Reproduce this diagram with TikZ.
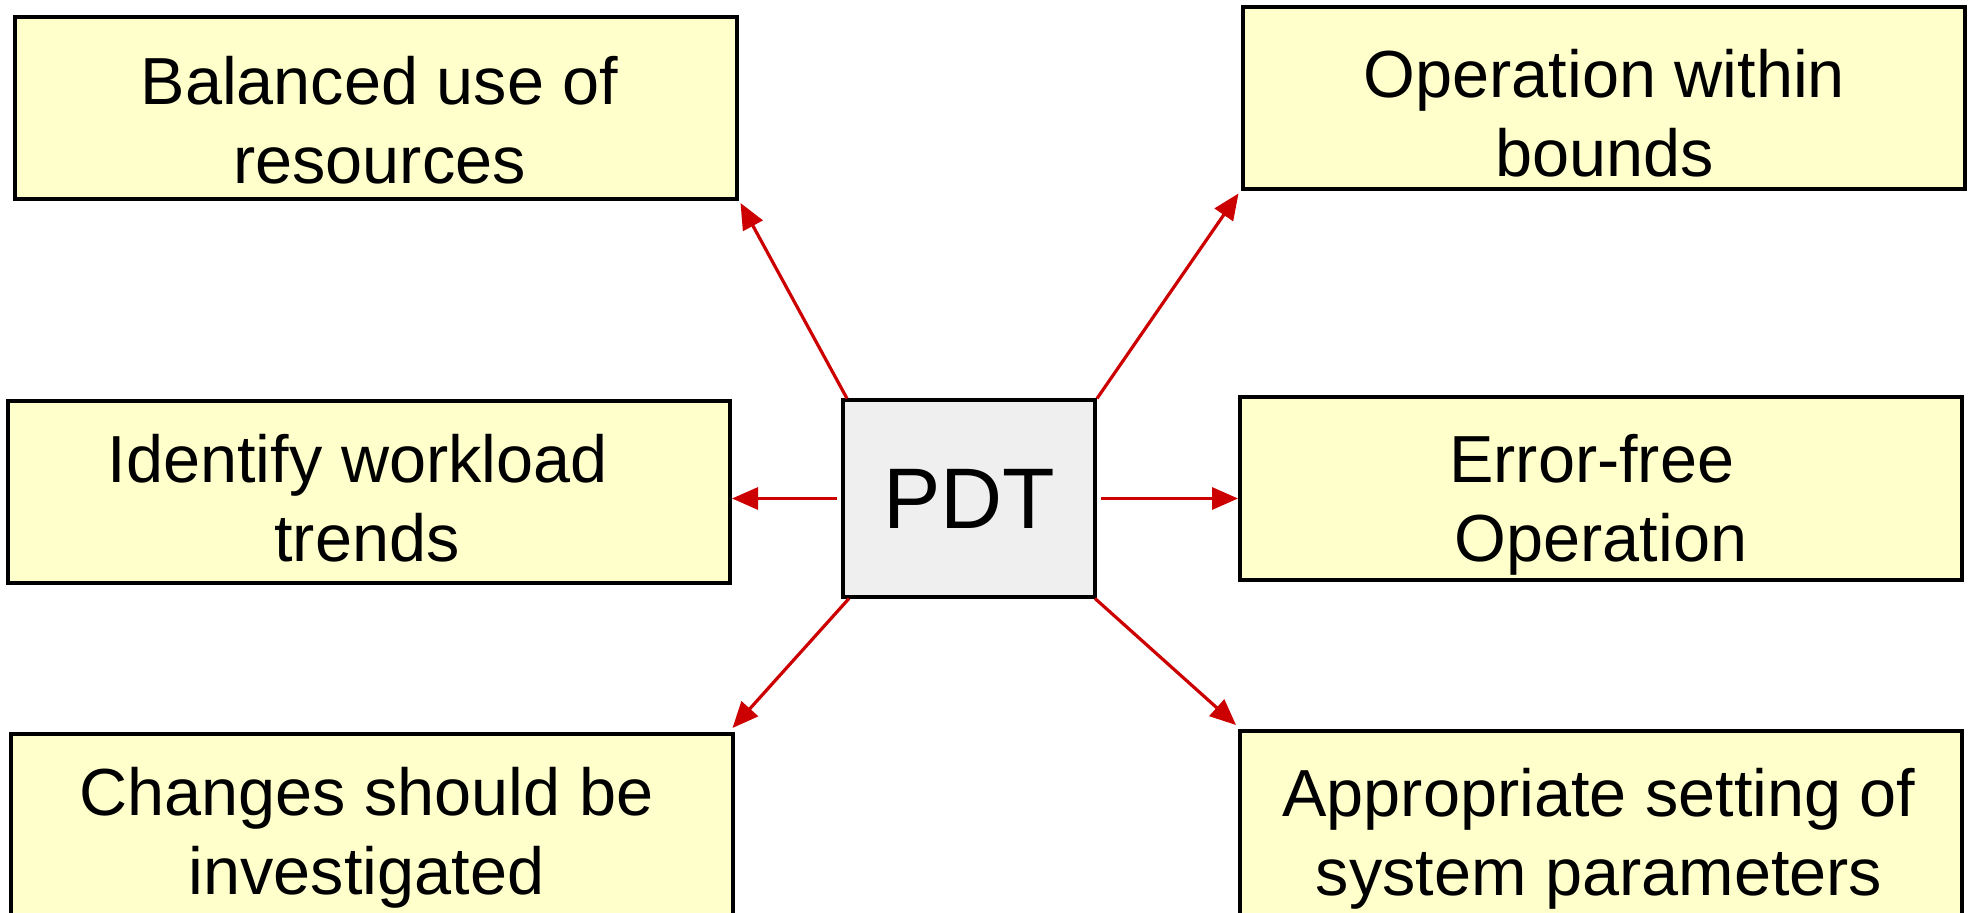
\documentclass[tikz,border=0pt]{standalone}
\usepackage{fontspec}
\setmainfont{Liberation Sans}
\usetikzlibrary{arrows.meta}
\definecolor{boxyellow}{HTML}{FFFFCC}
\definecolor{pdtgray}{HTML}{EFEFEF}
\definecolor{arrowred}{HTML}{CC0000}
\begin{document}
\begin{tikzpicture}[x=0.5pt,y=-0.5pt,
  goalbox/.style={draw=black, line width=2pt, fill=boxyellow, minimum width=361pt, minimum height=91pt, inner sep=0pt},
  lowbox/.style={goalbox, minimum height=110pt},
  goaltext/.style={align=center, inner sep=0pt, font=\fontsize{33.3}{39.5}\selectfont},
  centerbox/.style={draw=black, line width=2pt, fill=pdtgray, minimum width=126pt, minimum height=98pt, inner sep=0pt, font=\fontsize{43}{50}\selectfont},
  link/.style={draw=arrowred, line width=1.6pt, -{Triangle[length=13pt,width=11pt]}}]
\clip (0,0) rectangle (1973,913);
\fill[white] (0,0) rectangle (1973,913);
\node[goalbox, label={[goaltext, xshift=2pt, yshift=-6.3pt]center:{Balanced use of\\resources}}] (b1) at (375.5,108) {};
\node[goalbox, label={[goaltext, xshift=0.5pt, yshift=-7.5pt]center:{Operation within\\bounds}}] (b2) at (1603.5,98.5) {};
\node[goalbox, label={[goaltext, xshift=-1pt, yshift=-3.2pt]center:{Identify workload\hspace*{0.278em}\\trends}}] (b3) at (369,492) {};
\node[centerbox] (pdt) at (969,498.5) {PDT};
\node[goalbox, label={[goaltext, xshift=0pt, yshift=-8.2pt]center:{Error-free\hspace*{0.278em}\\Operation}}] (b4) at (1601,488.5) {};
\node[lowbox, label={[goaltext, xshift=-2.5pt, yshift=3.2pt]center:{Changes should be\\investigated}}] (b5) at (371.5,844) {};
\node[lowbox, label={[goaltext, xshift=-1pt, yshift=1.3pt]center:{Appropriate setting of\\system parameters}}] (b6) at (1601,841) {};
\draw[link] ([xshift=3pt]pdt.north west) -- ([xshift=1pt,yshift=-1pt]b1.south east);
\draw[link] ([xshift=0pt]pdt.north east) -- ([xshift=-1pt,yshift=-1pt]b2.south west);
\draw[link] ([xshift=-2pt]pdt.west) -- (b3.east |- pdt.west);
\draw[link] ([xshift=2pt]pdt.east) -- (b4.west |- pdt.east);
\draw[link] ([xshift=4pt]pdt.south west) -- ([xshift=-1pt,yshift=2pt]b5.north east);
\draw[link] ([xshift=-1pt]pdt.south east) -- ([xshift=-1pt,yshift=2pt]b6.north west);
\end{tikzpicture}
\end{document}
